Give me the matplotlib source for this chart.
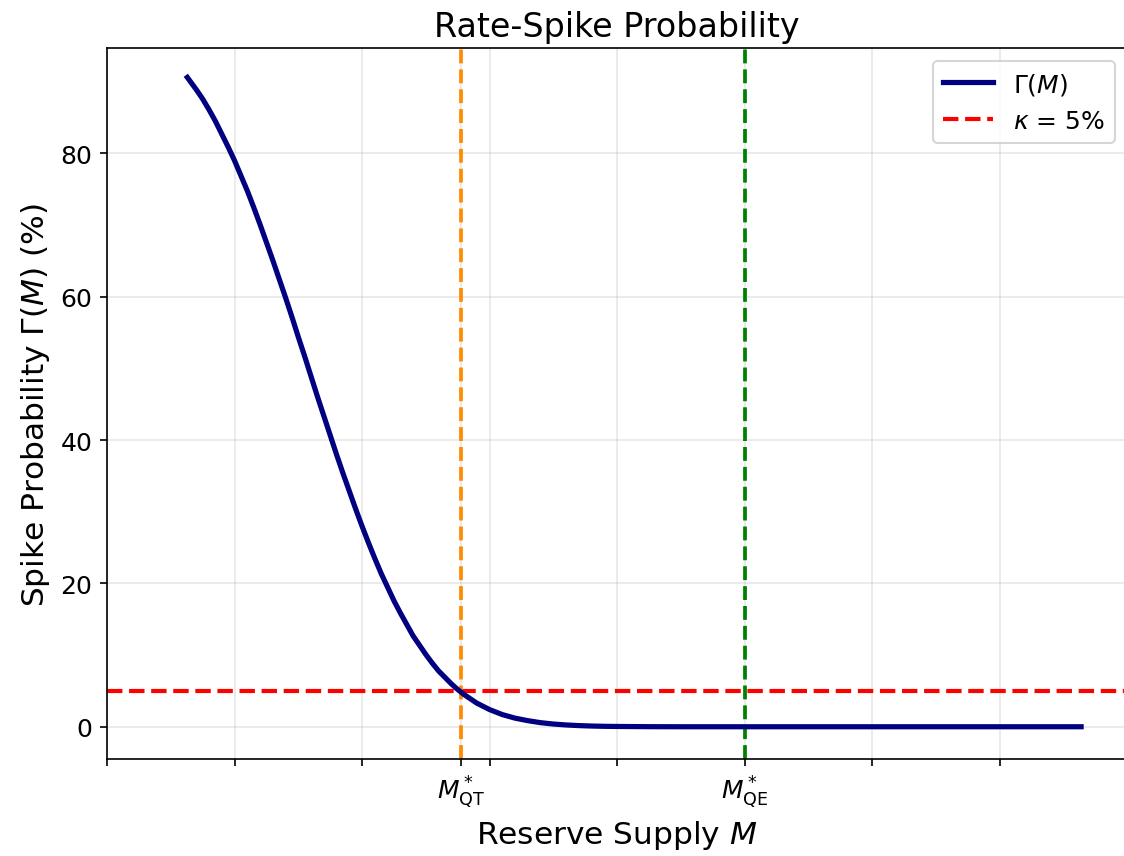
import matplotlib
matplotlib.use("Agg")
import matplotlib.pyplot as plt
import numpy as np

# Reserve supply M (tick step = 1) and spike probability
M = [0.63, 0.7, 0.75, 0.8, 0.85, 0.9, 0.95, 1.0, 1.05, 1.1, 1.15, 1.2,
     1.25, 1.3, 1.35, 1.4, 1.45, 1.5, 1.55, 1.6, 1.65, 1.7, 1.75, 1.8, 1.85,
     1.9, 1.95, 2.0, 2.05, 2.1, 2.15, 2.2, 2.25, 2.3, 2.35, 2.4, 2.45, 2.5,
     2.55, 2.6, 2.65, 2.7, 2.75, 2.8, 2.85, 2.9, 2.95, 3.0, 3.1, 3.2, 3.3,
     3.4, 3.5, 3.6, 3.7, 3.8, 3.9, 4.0, 4.25, 4.5, 5.0, 5.5, 6.0, 6.5, 7.0,
     7.64]
gamma = [90.6, 88.9, 87.6, 86.1, 84.5, 82.7, 80.9, 79.0, 76.9, 74.8,
         72.5, 70.1, 67.6, 65.1, 62.5, 59.9, 57.2, 54.4, 51.7, 48.9, 46.1,
         43.4, 40.7, 38.0, 35.4, 32.9, 30.4, 28.0, 25.7, 23.5, 21.4, 19.5,
         17.6, 15.9, 14.3, 12.7, 11.4, 10.1, 8.9, 7.8, 6.9, 6.0, 5.2, 4.5,
         3.9, 3.3, 2.85, 2.4, 1.7, 1.2, 0.85, 0.57, 0.38, 0.25, 0.16, 0.10,
         0.06, 0.04, 0.01, 0.0, 0.0, 0.0, 0.0, 0.0, 0.0, 0.0]

kappa = 5
M_QT = 2.78
M_QE = 5.0
grid_ticks = [0, 1, 2, 3, 4, 6, 7]

fig = plt.figure(figsize=(1124 / 150, 857 / 150), dpi=150)
ax = fig.add_axes([107 / 1124, 1 - 760 / 857, (1127 - 107) / 1124, (760 - 49) / 857])

ax.plot(M, gamma, color="navy", lw=2.5, label=r"$\Gamma(M)$", zorder=3)
ax.axhline(kappa, color="red", ls="--", lw=2, label=r"$\kappa$ = 5%")
ax.axvline(M_QT, color="darkorange", ls="--", lw=1.8)
ax.axvline(M_QE, color="green", ls="--", lw=1.8)

ticks = sorted(grid_ticks + [M_QT, M_QE])
labels = []
for t in ticks:
    if t == M_QT:
        labels.append(r"$M^*_{\mathrm{QT}}$")
    elif t == M_QE:
        labels.append(r"$M^*_{\mathrm{QE}}$")
    else:
        labels.append("")
ax.set_xticks(ticks)
ax.set_xticklabels(labels, fontsize=12)
ax.tick_params(axis="y", labelsize=12)
ax.set_yticks([0, 20, 40, 60, 80])

ax.set_xlim(0, 8)
ax.set_ylim(-4.5, 94.7)
ax.grid(True, alpha=0.3)
ax.spines["right"].set_visible(False)

ax.set_title("Rate-Spike Probability", fontsize=16)
ax.set_xlabel(r"Reserve Supply $M$", fontsize=15)
ax.set_ylabel(r"Spike Probability $\Gamma(M)$ (%)", fontsize=15)
ax.legend(loc="upper right", fontsize=12)

fig.savefig("out.png", dpi=150)
